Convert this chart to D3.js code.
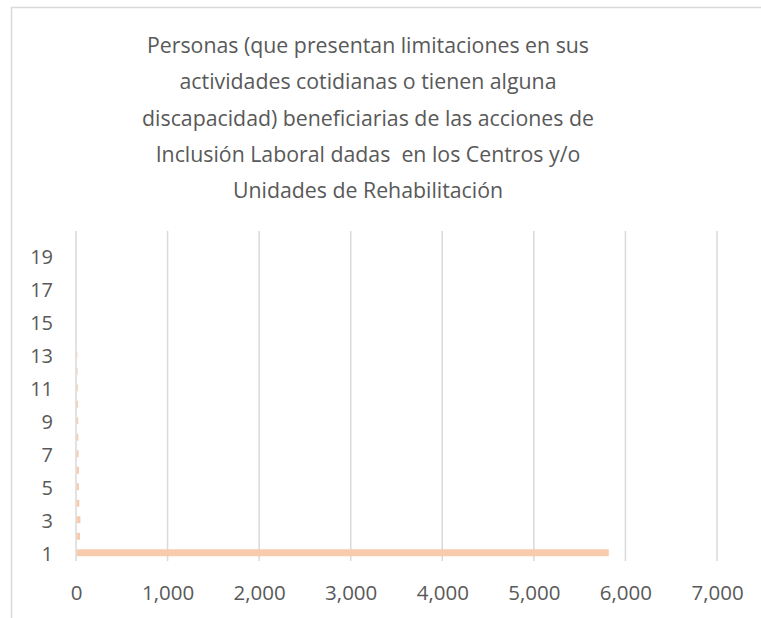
<!DOCTYPE html>
<html>
<head>
<meta charset="utf-8">
<script src="https://cdn.jsdelivr.net/npm/d3@7"></script>
<style>
  html, body { margin: 0; padding: 0; background: #ffffff; }
  svg { display: block; }
</style>
</head>
<body>
<svg id="chart" width="761" height="618"></svg>
<script>
// Categories (row numbers) and beneficiaries per row
const categories = d3.range(1, 21);
const values = [5810, 36, 40, 28, 24, 24, 20, 18, 15, 13, 11, 9, 6, 0, 0, 0, 0, 0, 0, 0];
const xTicks = [0, 1000, 2000, 3000, 4000, 5000, 6000, 7000];
const yTickLabels = [1, 3, 5, 7, 9, 11, 13, 15, 17, 19];
const titleLines = [
  "Personas (que presentan limitaciones en sus",
  "actividades cotidianas o tienen alguna",
  "discapacidad) beneficiarias de las acciones de",
  "Inclusión Laboral dadas  en los Centros y/o",
  "Unidades de Rehabilitación"
];

const svg = d3.select("#chart");
const W = 761, H = 618;
const margin = { left: 76, right: 44, top: 231, bottom: 57 };
const textColor = "#595959";
const gridColor = "#D9D9D9";
const barColor = "#F8CBAD";
const font = "'Open Sans', 'Liberation Sans', sans-serif";

// chart frame
svg.append("path")
  .attr("d", `M11.5,${H} V7.5 H${W}`)
  .attr("fill", "none")
  .attr("stroke", gridColor)
  .attr("stroke-width", 1.5);

// title
const title = svg.append("text")
  .attr("text-anchor", "middle")
  .attr("font-family", font)
  .attr("font-size", 21.3)
  .attr("fill", textColor)
  .style("white-space", "pre");
titleLines.forEach((line, i) => {
  title.append("tspan")
    .attr("x", 368)
    .attr("y", 53 + i * 36.3)
    .text(line);
});

const x = d3.scaleLinear()
  .domain([0, 7000])
  .range([margin.left, W - margin.right]);

const y = d3.scaleBand()
  .domain(categories)
  .range([H - margin.bottom, margin.top])
  .paddingInner(0.58)
  .paddingOuter(0.29);

// vertical gridlines
svg.append("g")
  .selectAll("line")
  .data(xTicks)
  .join("line")
  .attr("x1", d => x(d))
  .attr("x2", d => x(d))
  .attr("y1", margin.top)
  .attr("y2", H - margin.bottom)
  .attr("stroke", gridColor)
  .attr("stroke-width", 1.5);

// bars
svg.append("g")
  .selectAll("rect")
  .data(categories)
  .join("rect")
  .attr("x", x(0) + 0.75)
  .attr("y", d => y(d))
  .attr("height", y.bandwidth())
  .attr("width", (d, i) => Math.max(0, x(values[i]) - x(0)))
  .attr("fill", barColor);

// x axis labels
const xAxis = d3.axisBottom(x)
  .tickValues(xTicks)
  .tickFormat(d3.format(","))
  .tickSize(0)
  .tickPadding(24);
const gx = svg.append("g")
  .attr("transform", `translate(0,${H - margin.bottom})`)
  .call(xAxis);
gx.select(".domain").remove();
gx.selectAll("text")
  .attr("font-family", font)
  .attr("font-size", 20.5)
  .attr("fill", textColor);

// y axis labels (every other category)
const yAxis = d3.axisLeft(y)
  .tickValues(yTickLabels)
  .tickSize(0)
  .tickPadding(23);
const gy = svg.append("g")
  .attr("transform", `translate(${margin.left},${2})`)
  .call(yAxis);
gy.select(".domain").remove();
gy.selectAll("text")
  .attr("font-family", font)
  .attr("font-size", 20)
  .attr("fill", textColor);
</script>
</body>
</html>
